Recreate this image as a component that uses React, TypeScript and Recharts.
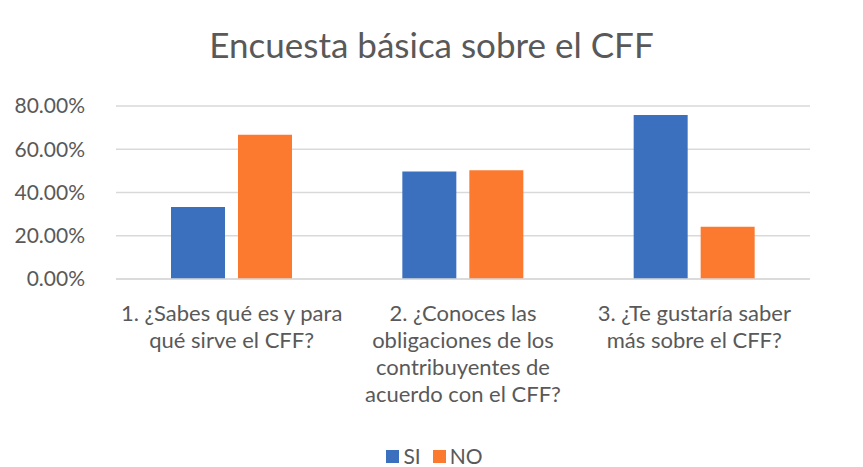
import { BarChart, Bar, XAxis, YAxis, CartesianGrid } from 'recharts';

const categories = [
  '1. ¿Sabes qué es y para|qué sirve el CFF?',
  '2. ¿Conoces las|obligaciones de los|contribuyentes de|acuerdo con el CFF?',
  '3. ¿Te gustaría saber|más sobre el CFF?',
];
const siValues = [33.33, 49.7, 75.86];
const noValues = [66.67, 50.3, 24.14];
const yTicks = [0, 20, 40, 60, 80];
const seriesNames = ['SI', 'NO'];
const seriesColors = ['#3B70BF', '#FB7A30'];

const data = categories.map((name, i) => ({ name, SI: siValues[i], NO: noValues[i] }));

const FONT = 'Lato, "Noto Sans", sans-serif';
const TEXT = '#595959';

function CategoryTick(props: any) {
  const { x, y, payload } = props;
  const lines: string[] = String(payload.value).split('|');
  return (
    <text x={x} y={y} textAnchor="middle" fill={TEXT} fontSize={22} fontFamily={FONT}>
      {lines.map((l, i) => (
        <tspan key={i} x={x} y={y + 42 + i * 27}>
          {l}
        </tspan>
      ))}
    </text>
  );
}

export default function App() {
  return (
    <div style={{ position: 'absolute', left: 0, top: 0, width: 863, height: 467, background: '#fff' }}>
      <div style={{
        position: 'absolute',
        top: 22,
        left: 0,
        width: 863,
        textAlign: 'center',
        fontFamily: FONT,
        fontSize: 35,
        color: TEXT,
        lineHeight: '44px',
      }}>
        Encuesta básica sobre el CFF
      </div>
      <BarChart
        width={863}
        height={467}
        data={data}
        margin={{ top: 106, right: 53, left: 16, bottom: 0 }}
        barSize={54}
        barGap={13}
      >
        <CartesianGrid vertical={false} stroke="#D9D9D9" strokeWidth={1.5} />
        <XAxis
          dataKey="name"
          tick={<CategoryTick />}
          tickLine={false}
          tickSize={0}
          tickMargin={0}
          axisLine={{ stroke: '#D9D9D9', strokeWidth: 1.5 }}
          interval={0}
          height={188}
        />
        <YAxis
          domain={[0, 80]}
          ticks={yTicks}
          tickFormatter={(v: number) => `${v.toFixed(2)}%`}
          tick={{ fill: TEXT, fontSize: 21, fontFamily: FONT }}
          tickLine={false}
          tickSize={0}
          tickMargin={31}
          axisLine={false}
          width={100}
        />
        <Bar dataKey="SI" fill={seriesColors[0]} isAnimationActive={false} />
        <Bar dataKey="NO" fill={seriesColors[1]} isAnimationActive={false} />
      </BarChart>
      <div style={{
        position: 'absolute',
        top: 443,
        left: 0,
        width: 863,
        display: 'flex',
        justifyContent: 'center',
        gap: 12,
        fontFamily: FONT,
        fontSize: 21,
        color: TEXT,
        lineHeight: '26px',
      }}>
        {seriesNames.map((n, i) => (
          <div key={n} style={{ display: 'flex', alignItems: 'center', marginLeft: i === 0 ? 6 : 0 }}>
            <span style={{ display: 'inline-block', width: 13, height: 13, background: seriesColors[i], marginRight: 4 }} />
            {n}
          </div>
        ))}
      </div>
    </div>
  );
}
